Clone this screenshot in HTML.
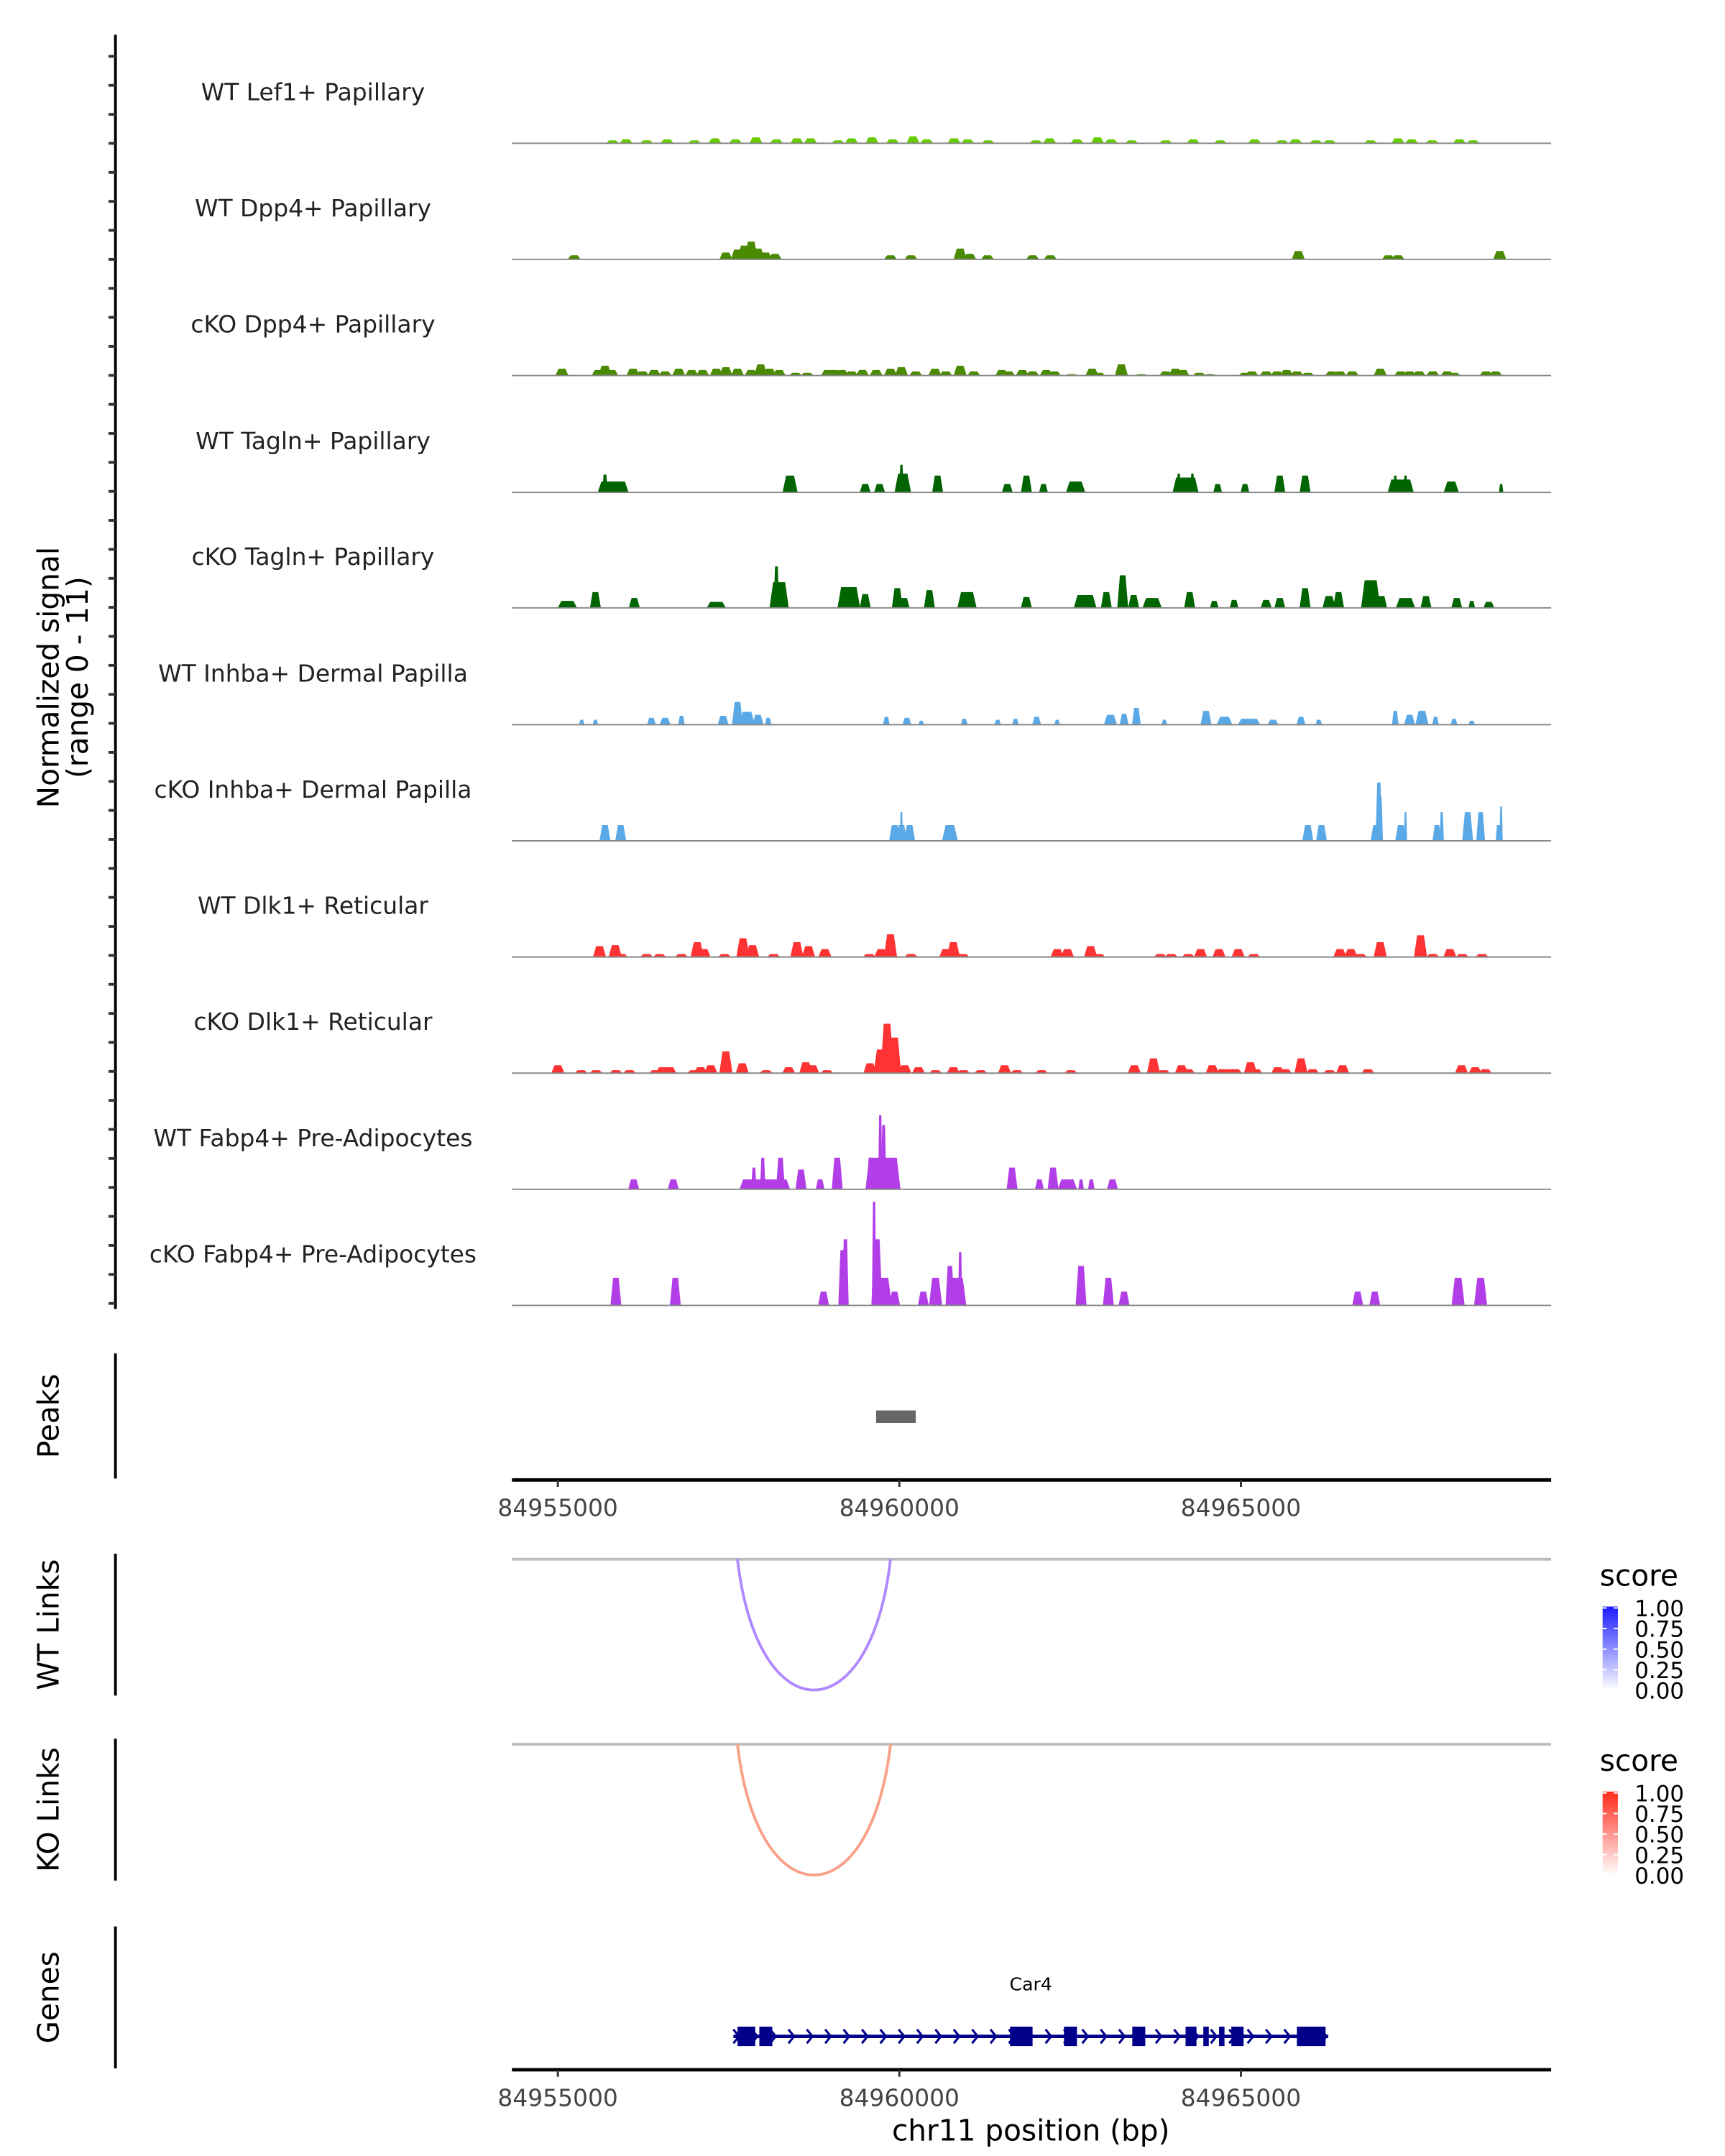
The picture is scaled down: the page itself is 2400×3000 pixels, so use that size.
<!DOCTYPE html>
<html><head><meta charset="utf-8"><style>
html,body{margin:0;padding:0;background:#fff;}
svg{display:block;font-family:"DejaVu Sans","Liberation Sans",sans-serif;}
</style></head><body>
<svg id="chart" width="2400" height="3000" viewBox="0 0 1240 1550" xmlns="http://www.w3.org/2000/svg">
<g id="tracks"></g>
<g id="frame"></g>
</svg>
<script>
// ---- data (positions in kb offset from region start) ----
const regionStartKb = 84955;
const trackNames = ["WT Lef1+ Papillary","WT Dpp4+ Papillary","cKO Dpp4+ Papillary","WT Tagln+ Papillary","cKO Tagln+ Papillary","WT Inhba+ Dermal Papilla","cKO Inhba+ Dermal Papilla","WT Dlk1+ Reticular","cKO Dlk1+ Reticular","WT Fabp4+ Pre-Adipocytes","cKO Fabp4+ Pre-Adipocytes"];
const trackColors = ["#66cc00","#4a8a00","#4a8a00","#006400","#006400","#5aa9e6","#5aa9e6","#ff3333","#ff3333","#b23ee8","#b23ee8"];
const lef1Pos = [0.8,1.0,1.3,1.6,2.0,2.3,2.6,2.9,3.2,3.5,3.7,4.1,4.3,4.6,4.9,5.2,5.4,5.8,6.0,6.3,7.0,7.2,7.6,7.9,8.1,8.4,8.9,9.3,9.7,10.2,10.6,10.8,11.1,11.3,11.9,12.3,12.5,12.8,13.2,13.4];
const lef1Val = [.3,.4,.3,.4,.3,.5,.4,.6,.4,.5,.5,.3,.5,.6,.4,.7,.4,.5,.4,.3,.3,.5,.4,.6,.4,.3,.3,.4,.3,.4,.3,.4,.3,.3,.3,.5,.4,.3,.4,.3];
const wtDppPos = [0.24,2.46,2.63,2.73,2.83,2.93,3.04,3.18,4.87,5.17,5.89,6.03,6.29,6.95,7.21,10.84,12.16,12.30,13.79];
const wtDppVal = [.42,.7,1,1.4,1.8,1.1,.7,.56,.42,.42,1.1,.56,.42,.42,.42,.85,.42,.42,.85];
const koDppPos = [0.06,0.59,0.69,0.79,1.10,1.24,1.41,1.57,1.77,1.96,2.12,2.32,2.46,2.63,2.83,2.97,3.10,3.24,3.48,3.65,3.95,4.05,4.16,4.30,4.46,4.66,4.87,5.03,5.24,5.52,5.68,5.89,6.09,6.50,6.60,6.80,6.95,7.15,7.27,7.52,7.82,7.92,8.25,8.54,8.90,9.04,9.15,9.39,9.55,10.06,10.16,10.37,10.53,10.67,10.82,10.98,11.33,11.45,11.63,12.04,12.34,12.47,12.61,12.81,13.02,13.12,13.59,13.73];
const koDppVal = [.7,.56,1,.56,.7,.42,.56,.42,.7,.56,.56,.7,.85,.7,.56,1.13,.7,.56,.28,.28,.56,.56,.56,.42,.56,.56,.7,.85,.42,.7,.42,1,.42,.56,.42,.56,.42,.56,.42,.14,.7,.28,1.13,.14,.42,.7,.56,.28,.14,.28,.42,.42,.42,.56,.42,.28,.42,.42,.42,.7,.42,.42,.42,.42,.42,.28,.42,.42];
const wtTagPos = [0.81,0.69,3.40,4.50,4.71,5.05,5.03,5.56,6.58,6.86,7.11,7.58,9.19,9.09,9.29,9.66,10.06,10.57,10.94,12.34,12.26,12.41,13.08,13.81];
const wtTagVal = [1.1,1.8,1.7,.85,.85,1.9,2.8,1.7,.85,1.7,.85,1.1,1.5,1.9,1.9,.85,.85,1.7,1.7,1.3,1.7,1.7,1.1,.85];
const wtTagWid = [.37,.05,.14,.1,.1,.16,.04,.1,.1,.1,.08,.2,.3,.04,.04,.08,.08,.1,.1,.3,.04,.04,.14,.04];
const koTagPos = [0.14,0.55,1.12,2.32,3.24,3.20,4.26,4.50,4.97,5.07,5.44,5.99,6.86,7.72,8.03,8.27,8.43,8.70,9.25,9.61,9.90,10.37,10.57,10.94,11.29,11.43,11.90,12.06,12.41,12.71,13.16,13.38,13.63];
const koTagVal = [.7,1.6,1,.6,2.6,4.2,2.1,1.4,2.0,1,1.8,1.6,1.1,1.3,1.6,3.3,1.3,1.0,1.6,.7,.8,.8,1.0,2.0,1.2,1.6,2.8,1.2,1.0,1.2,1.0,.7,.6];
const koTagWid = [.2,.1,.1,.2,.2,.05,.25,.1,.1,.1,.1,.2,.1,.25,.1,.1,.1,.2,.1,.08,.08,.1,.1,.1,.12,.1,.2,.1,.2,.1,.1,.06,.1];
const wtInhPos = [0.35,0.55,1.37,1.57,1.81,2.42,2.63,2.77,2.93,3.08,4.81,5.11,5.32,5.95,6.44,6.70,7.01,7.31,8.09,8.29,8.47,8.88,9.49,9.76,10.12,10.47,10.88,11.14,12.26,12.47,12.65,12.85,13.12,13.38];
const wtInhVal = [.5,.5,.7,.7,.9,.9,2.3,1.3,1.0,.7,.8,.7,.4,.6,.5,.6,.8,.5,1.0,1.1,1.7,.5,1.4,.8,.6,.5,.8,.5,1.4,1.0,1.4,.8,.6,.4];
const wtInhWid = [.05,.05,.08,.1,.06,.1,.1,.15,.1,.06,.06,.08,.05,.06,.06,.06,.08,.05,.12,.08,.08,.05,.1,.15,.25,.1,.08,.06,.06,.1,.12,.06,.06,.06];
const koInhPos = [0.69,0.92,4.93,5.03,5.03,5.15,5.74,10.98,11.18,11.98,12.02,12.04,12.34,12.41,12.87,12.94,13.32,13.51,13.77,13.81];
const koInhVal = [1.6,1.6,1.6,1.6,2.9,1.6,1.6,1.6,1.6,1.6,5.9,4.5,1.6,2.9,1.6,2.9,2.9,2.9,1.6,3.5];
const koInhWid = [.1,.1,.1,.1,.03,.1,.15,.1,.1,.1,.06,.05,.1,.03,.08,.04,.1,.08,.05,.03];
const wtDlkPos = [0.61,0.84,0.93,1.30,1.49,1.81,2.04,2.14,2.44,2.71,2.85,3.16,3.50,3.67,3.91,4.56,4.73,4.87,5.17,5.68,5.79,5.93,7.31,7.46,7.80,7.92,8.82,8.98,9.23,9.41,9.68,9.96,10.19,11.45,11.61,11.75,12.04,12.63,12.81,13.06,13.24,13.53];
const wtDlkVal = [1.1,1.2,.3,.3,.3,.3,1.5,.8,.3,1.9,1.2,.3,1.5,1.1,.8,.3,.8,2.3,.3,.8,1.5,.3,.8,.8,1.1,.3,.3,.3,.3,.8,.8,.8,.3,.8,.8,.3,1.5,2.2,.3,.8,.3,.3];
const koDlkPos = [0.00,0.34,0.56,0.85,1.05,1.43,1.53,1.64,1.99,2.09,2.24,2.46,2.70,3.05,3.38,3.63,3.73,3.94,4.57,4.72,4.82,4.93,5.08,5.28,5.53,5.79,5.94,6.19,6.54,6.72,7.08,7.51,8.44,8.72,8.87,9.13,9.23,9.58,9.73,9.84,9.92,10.14,10.22,10.54,10.65,10.88,11.05,11.30,11.49,11.86,13.23,13.43,13.58];
const koDlkVal = [.8,.3,.3,.3,.3,.3,.6,.6,.3,.6,.8,2.2,1.0,.3,.6,1.1,.8,.3,1.0,2.4,5.0,3.6,.8,.6,.3,.6,.3,.3,.8,.3,.3,.3,.8,1.5,.3,.8,.4,.8,.4,.4,.4,1.1,.4,.6,.4,1.5,.4,.3,.8,.4,.8,.6,.4];
const wtFabPos = [1.11,1.69,3.03,2.87,3.00,3.26,3.56,3.84,4.09,4.76,4.57,4.72,4.77,4.87,6.65,7.05,7.25,7.46,7.66,7.81,8.12];
const wtFabVal = [1.0,1.0,1.0,2.2,3.2,3.2,2.0,1.0,3.2,3.2,3.2,7.5,6.5,2.2,2.2,1.0,2.2,1.0,1.0,1.0,1.0];
const wtFabWid = [.1,.1,.66,.05,.05,.08,.1,.08,.1,.43,.05,.04,.05,.08,.1,.08,.1,.2,.05,.06,.1];
const koFabPos = [0.85,1.72,3.89,4.17,4.21,4.63,4.67,4.75,4.93,5.35,5.53,5.74,5.84,5.89,7.66,8.06,8.29,11.71,11.96,13.18,13.51];
const koFabVal = [2.8,2.8,1.4,5.6,6.7,10.5,6.7,2.8,1.4,1.4,2.8,4.0,2.8,5.4,4.0,2.8,1.4,1.4,1.4,2.8,2.8];
const koFabWid = [.1,.1,.1,.08,.06,.04,.1,.2,.1,.1,.12,.08,.2,.04,.1,.1,.1,.1,.1,.12,.12];
const trackPos = [lef1Pos,wtDppPos,koDppPos,wtTagPos,koTagPos,wtInhPos,koInhPos,wtDlkPos,koDlkPos,wtFabPos,koFabPos];
const trackVal = [lef1Val,wtDppVal,koDppVal,wtTagVal,koTagVal,wtInhVal,koInhVal,wtDlkVal,koDlkVal,wtFabVal,koFabVal];
const trackWid = [null,null,null,wtTagWid,koTagWid,wtInhWid,koInhWid,null,null,wtFabWid,koFabWid];
const axisTicksBp = [84955000,84960000,84965000];
const peakStartKb = [4.66], peakEndKb = [5.24];
const wtLinkStart = [2.63], wtLinkEnd = [4.87], wtLinkScore = [0.5];
const koLinkStart = [2.63], koLinkEnd = [4.87], koLinkScore = [0.5];
const legendTicks = ["1.00","0.75","0.50","0.25","0.00"];
const geneStartKb = 2.57, geneEndKb = 11.28;
const exonStart = [2.63,2.95,6.62,7.41,8.41,9.19,9.45,9.68,9.86,10.82];
const exonEnd   = [2.89,3.14,6.95,7.60,8.60,9.35,9.53,9.76,10.04,11.24];

// ---- scales ----
const NS="http://www.w3.org/2000/svg";
const svg=document.getElementById('chart');
const X0=368, X1=1115;
function xBp(bp){return 401+(bp-84955000)*245.5/5000;}
function xKb(k){return xBp((regionStartKb+k)*1000);}
const unitPx=7.1;
function yVal(v,base){return base-v*unitPx;}
function mk(tag,attrs,parent){const e=document.createElementNS(NS,tag);for(const k in attrs)e.setAttribute(k,attrs[k]);(parent||svg).appendChild(e);return e;}
const tracksG=document.getElementById('tracks'), frameG=document.getElementById('frame');

const trackBase=[103,186.5,270,354,437,521,604.5,688,771.5,855,938.5];
for(let t=0;t<11;t++){
  const base=trackBase[t];
  const g=mk('g',{},tracksG);
  
  
  const lab=mk('text',{x:225,y:base-31,'text-anchor':'middle','font-size':17,fill:'#222'},g);
  lab.textContent=trackNames[t];
  
  
  const pos=trackPos[t],val=trackVal[t],wid=trackWid[t];
  for(let i=0;i<pos.length;i++){
    const w=wid?wid[i]:0.12;
    const a=xKb(pos[i]-w/2), b=xKb(pos[i]+w/2), top=yVal(val[i],base);
    const s=Math.min((b-a)*0.3,2);
    const p=mk('polygon',{points:`${a-s},${base} ${a+s*0.3},${top} ${b-s*0.3},${top} ${b+s},${base}`,fill:trackColors[t]},g);
    
    
  }
  const bl=mk('line',{x1:X0,x2:X1,y1:base,y2:base,stroke:'#888','stroke-width':1},g);
  
  
}

// left axis of signal
const ya=mk('line',{x1:83,x2:83,y1:25,y2:941,stroke:'#000','stroke-width':2},frameG);


for(let i=0;i<44;i++){const y=40.5+i*20.85;const tk=mk('line',{x1:78,x2:83,y1:y,y2:y,stroke:'#333','stroke-width':2},frameG);

}
function vtext(txt,x,y,name,size){const e=mk('text',{x:0,y:0,transform:`translate(${x},${y}) rotate(-90)`,'text-anchor':'middle','font-size':size||21,fill:'#000'},frameG);e.textContent=txt;

return e;}
vtext('Normalized signal',42,487,'y-axis-title');
vtext('(range 0 - 11)',63,487,'y-axis-subtitle');

function vline(y1,y2,name){const l=mk('line',{x1:83,x2:83,y1:y1,y2:y2,stroke:'#000','stroke-width':2},frameG);

}
// peaks
vline(973,1063,'peaks-axis');vtext('Peaks',42,1018,'peaks-label');
for(let i=0;i<peakStartKb.length;i++){const r=mk('rect',{x:xKb(peakStartKb[i]),y:1014,width:xKb(peakEndKb[i])-xKb(peakStartKb[i]),height:9,fill:'#666'},frameG);

}
function xaxis(y,name){
  const l=mk('line',{x1:X0,x2:X1,y1:y,y2:y,stroke:'#000','stroke-width':2.5},frameG);
  
  
  axisTicksBp.forEach(bp=>{const x=xBp(bp);
    const tk=mk('line',{x1:x,x2:x,y1:y,y2:y+5,stroke:'#333','stroke-width':1.5},frameG);
    
    
    const tl=mk('text',{x:x,y:y+26,'text-anchor':'middle','font-size':17,fill:'#444'},frameG);tl.textContent=bp;
    
    });
}
xaxis(1064,'peaks-x-axis');

function links(top,label,starts,ends,scores,c1,c2,gid,name){
  vline(top-4,top+98,name+'-axis');vtext(label,42,top+47,name+'-label');
  const gl=mk('line',{x1:X0,x2:X1,y1:top,y2:top,stroke:'#bdbdbd','stroke-width':2},frameG);
  
  
  for(let i=0;i<starts.length;i++){const a=xKb(starts[i]),b=xKb(ends[i]);const d=94,cy=top+d/0.75;
    const p=mk('path',{d:`M${a},${top} C${a+(b-a)*0.13},${cy} ${b-(b-a)*0.13},${cy} ${b},${top}`,fill:'none',stroke:c2,'stroke-width':2},frameG);
    
    }
  const defs=mk('defs',{},frameG);const gr=mk('linearGradient',{id:gid,x1:0,y1:1,x2:0,y2:0},defs);
  mk('stop',{offset:0,'stop-color':'#ffffff'},gr);mk('stop',{offset:1,'stop-color':c1},gr);
  const st=mk('text',{x:1150,y:top+19,'font-size':21,fill:'#000'},frameG);st.textContent='score';
  
  
  const bar=mk('rect',{x:1152,y:top+34,width:11,height:60,fill:`url(#${gid})`},frameG);
  
  
  legendTicks.forEach((t,i)=>{const y=top+35+i*14.8;
    mk('line',{x1:1152,x2:1155,y1:y,y2:y,stroke:'#fff'},frameG);mk('line',{x1:1160,x2:1163,y1:y,y2:y,stroke:'#fff'},frameG);
    const tx=mk('text',{x:1175,y:y+6,'font-size':16,fill:'#000'},frameG);tx.textContent=t;
    
    });
}
links(1121,'WT Links',wtLinkStart,wtLinkEnd,wtLinkScore,'#1a1aff','#b088ff','gWT','wt-links');
links(1254,'KO Links',koLinkStart,koLinkEnd,koLinkScore,'#ff2a1a','#f9a088','gKO','ko-links');

// genes
vline(1385,1487,'genes-axis');vtext('Genes',42,1436,'genes-label');
const gname=mk('text',{x:741,y:1431,'text-anchor':'middle','font-size':13,fill:'#000'},frameG);gname.textContent='Car4';


const gy=1464;
const gline=mk('line',{x1:xKb(geneStartKb),x2:xKb(geneEndKb),y1:gy,y2:gy,stroke:'#00008b','stroke-width':2.5},frameG);


for(let x=xKb(geneStartKb)+2;x<xKb(geneEndKb);x+=13.2){
  const ch=mk('path',{d:`M${x-2},${gy-5} L${x+2},${gy} L${x-2},${gy+5}`,fill:'none',stroke:'#00008b','stroke-width':1.6},frameG);
  
  
}
for(let i=0;i<exonStart.length;i++){const a=xKb(exonStart[i]),b=xKb(exonEnd[i]);
  const r=mk('rect',{x:a,y:gy-7,width:b-a,height:14,fill:'#00008b'},frameG);
  
  }
xaxis(1488,'genes-x-axis');
const xt=mk('text',{x:741,y:1539,'text-anchor':'middle','font-size':21,fill:'#000'},frameG);xt.textContent='chr11 position (bp)';


</script>
</body></html>
